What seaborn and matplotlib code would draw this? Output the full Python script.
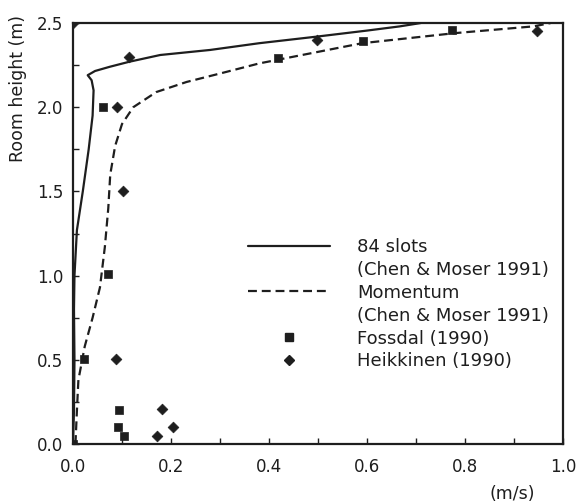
import matplotlib
matplotlib.use("Agg")
import matplotlib.pyplot as plt
from matplotlib.lines import Line2D
from matplotlib.ticker import MultipleLocator
import seaborn as sns
import pandas as pd

# ---- data ----
slots_x = [0.0, 0.002, 0.003, 0.002, 0.003, 0.008, 0.02, 0.032, 0.04, 0.042, 0.038, 0.03,
           0.045, 0.075, 0.115, 0.178, 0.28, 0.38, 0.5, 0.6, 0.667, 0.71]
slots_y = [0.0, 0.2, 0.5, 0.8, 1.0, 1.27, 1.5, 1.75, 1.95, 2.1, 2.16, 2.19,
           2.215, 2.24, 2.27, 2.31, 2.34, 2.38, 2.42, 2.455, 2.48, 2.5]

mom_x = [0.005, 0.008, 0.011, 0.024, 0.04, 0.055, 0.065, 0.072, 0.076, 0.086, 0.1, 0.123,
         0.17, 0.232, 0.3, 0.38, 0.45, 0.59, 0.78, 0.94, 0.975]
mom_y = [0.0, 0.2, 0.38, 0.58, 0.75, 0.93, 1.17, 1.4, 1.6, 1.77, 1.9, 2.0,
         2.09, 2.15, 2.2, 2.26, 2.3, 2.38, 2.44, 2.48, 2.5]

fossdal_x = [0.0, 0.105, 0.092, 0.094, 0.022, 0.072, 0.061, 0.419, 0.592, 0.773]
fossdal_y = [0.0, 0.05, 0.10, 0.20, 0.505, 1.01, 2.0, 2.29, 2.395, 2.46]

heik_x = [0.171, 0.205, 0.181, 0.088, 0.103, 0.089, 0.115, 0.497, 0.946, 0.0]
heik_y = [0.048, 0.103, 0.206, 0.505, 1.50, 2.0, 2.30, 2.40, 2.45, 2.5]

xticks = [0.0, 0.2, 0.4, 0.6, 0.8, 1.0]
xticklabels = ["0.0", "0.2", "0.4", "0.6", "0.8", "1.0"]
yticks = [0.0, 0.5, 1.0, 1.5, 2.0, 2.5]
yticklabels = ["0.0", "0.5", "1.0", "1.5", "2.0", "2.5"]

labels = ["84 slots", "(Chen & Moser 1991)", "Momentum", "(Chen & Moser 1991)",
          "Fossdal (1990)", "Heikkinen (1990)"]

# ---- style ----
sns.set_style("ticks")
plt.rcParams["font.family"] = ["DejaVu Sans"]
ink = "#1e1e1e"

fig = plt.figure(figsize=(5.78, 5.04), dpi=100)
ax = fig.add_axes([73/578, 1-444/504, (563-73)/578, (444-23)/504])

df_s = pd.DataFrame({"x": slots_x, "y": slots_y})
df_m = pd.DataFrame({"x": mom_x, "y": mom_y})
df_f = pd.DataFrame({"x": fossdal_x, "y": fossdal_y})
df_h = pd.DataFrame({"x": heik_x, "y": heik_y})

sns.lineplot(data=df_s, x="x", y="y", sort=False, estimator=None, ax=ax,
             color=ink, lw=1.6)
sns.lineplot(data=df_m, x="x", y="y", sort=False, estimator=None, ax=ax,
             color=ink, lw=1.6, dashes=False, linestyle=(0, (4, 2.2)))
sns.scatterplot(data=df_f, x="x", y="y", ax=ax, marker="s", s=38, color=ink,
                edgecolor=ink, linewidth=0.5, zorder=5)
sns.scatterplot(data=df_h, x="x", y="y", ax=ax, marker="D", s=30, color=ink,
                edgecolor=ink, linewidth=0.5, zorder=5)

ax.set_xlim(0, 1.0)
ax.set_ylim(0, 2.5)
ax.set_xticks(xticks)
ax.set_xticklabels(xticklabels)
ax.set_yticks(yticks)
ax.set_yticklabels(yticklabels)
ax.xaxis.set_minor_locator(MultipleLocator(0.1))
ax.yaxis.set_minor_locator(MultipleLocator(0.25))
ax.tick_params(which="both", direction="in", length=4, width=1, color=ink,
               labelsize=12, labelcolor=ink)
ax.tick_params(axis="y", pad=7)
ax.tick_params(axis="x", pad=10)
ax.set_xlabel("")
ax.set_ylabel("")
for sp in ax.spines.values():
    sp.set_visible(True)
    sp.set_color(ink)
    sp.set_linewidth(1.6)

fig.text(18/578, 1-88/504, "Room height (m)", rotation=90, ha="center",
         va="center", fontsize=12.5, color=ink)
fig.text(512/578, 1-494/504, "(m/s)", ha="center", va="center",
         fontsize=12.5, color=ink)

handles = [
    Line2D([], [], color=ink, lw=1.6),
    Line2D([], [], color="none"),
    Line2D([], [], color=ink, lw=1.6, linestyle=(0, (4, 2.2))),
    Line2D([], [], color="none"),
    Line2D([], [], color=ink, marker="s", ls="none", markersize=6),
    Line2D([], [], color=ink, marker="D", ls="none", markersize=5),
]
leg = ax.legend(handles, labels, loc="upper left",
                bbox_to_anchor=(248/578, 1-238/504), bbox_transform=fig.transFigure,
                frameon=False, fontsize=13, handlelength=4.54, handletextpad=1.5,
                labelspacing=0.27, borderpad=0, borderaxespad=0, numpoints=1)
for t in leg.get_texts():
    t.set_color(ink)

fig.savefig("out.png", dpi=100)
